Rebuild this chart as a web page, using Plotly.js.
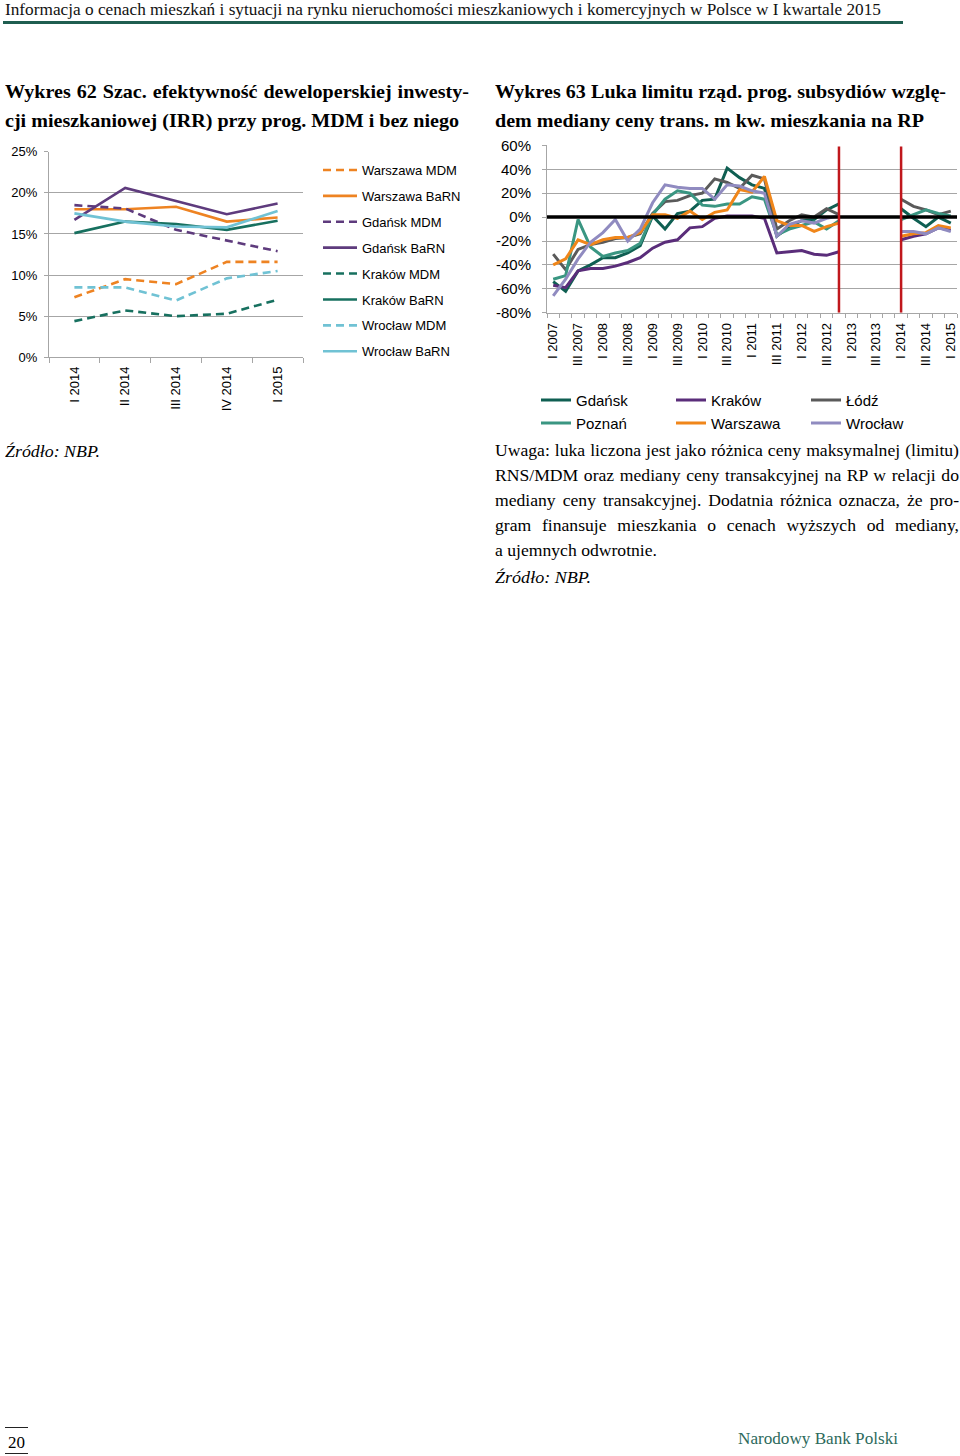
<!DOCTYPE html>
<html>
<head>
<meta charset="utf-8">
<script src="https://cdn.plot.ly/plotly-3.0.1.min.js"></script>
<style>
  html, body { margin: 0; padding: 0; background: #fff; }
  #wrap { position: relative; width: 960px; height: 1456px; overflow: hidden; background: #fff; }
  #chart { position: absolute; left: 0; top: 0; width: 960px; height: 1456px; }
  .t { position: absolute; white-space: nowrap; font-family: "Liberation Serif", "Times New Roman", serif;
       color: #000; transform-origin: 0 50%; z-index: 5; }
  .rule { position: absolute; z-index: 5; }
</style>
</head>
<body>
<div id="wrap">
  <div id="chart"></div>

  <div class="t" data-w="876" style="left:5px; top:0px; font-size:17px; line-height:20px; color:#111;">Informacja o cenach mieszkań i sytuacji na rynku nieruchomości mieszkaniowych i komercyjnych w Polsce w I kwartale 2015</div>
  <div class="rule" style="left:3px; top:21px; width:900px; height:3px; background:#1F5E50;"></div>

  <div class="t" data-w="464" data-grp="tl" style="left:5px; top:80px; font-size:19px; line-height:24px; font-weight:bold;">Wykres 62 Szac. efektywność deweloperskiej inwesty-</div>
  <div class="t" data-w="454" data-ref="tl" style="left:5px; top:109px; font-size:19px; line-height:24px; font-weight:bold;">cji mieszkaniowej (IRR) przy prog. MDM i bez niego</div>
  <div class="t" data-w="451" data-grp="tr" style="left:495px; top:80px; font-size:19px; line-height:24px; font-weight:bold;">Wykres 63 Luka limitu rząd. prog. subsydiów wzglę-</div>
  <div class="t" data-w="429" data-ref="tr" style="left:495px; top:109px; font-size:19px; line-height:24px; font-weight:bold;">dem mediany ceny trans. m kw. mieszkania na RP</div>

  <div class="t" data-w="95" style="left:5px; top:441px; font-size:17px; line-height:22px; font-style:italic;">Źródło: NBP.</div>

  <div class="t" data-w="464" data-grp="p" style="left:495px; top:440px; font-size:17px; line-height:22px;">Uwaga: luka liczona jest jako różnica ceny maksymalnej (limitu)</div>
  <div class="t" data-w="464" data-grp="p" style="left:495px; top:465px; font-size:17px; line-height:22px;">RNS/MDM oraz mediany ceny transakcyjnej na RP w relacji do</div>
  <div class="t" data-w="464" data-grp="p" style="left:495px; top:490px; font-size:17px; line-height:22px;">mediany ceny transakcyjnej. Dodatnia różnica oznacza, że pro-</div>
  <div class="t" data-w="464" data-grp="p" style="left:495px; top:515px; font-size:17px; line-height:22px;">gram finansuje mieszkania o cenach wyższych od mediany,</div>
  <div class="t" data-w="162" data-ref="p" style="left:495px; top:540px; font-size:17px; line-height:22px;">a ujemnych odwrotnie.</div>
  <div class="t" data-w="96" style="left:495px; top:567px; font-size:17px; line-height:22px; font-style:italic;">Źródło: NBP.</div>

  <div class="rule" style="left:5px; top:1427px; width:23px; height:1px; background:#222;"></div>
  <div class="t" data-w="17" style="left:8px; top:1433px; font-size:16px; line-height:20px;">20</div>
  <div class="rule" style="left:5px; top:1453px; width:23px; height:1px; background:#222;"></div>
  <div class="t" data-w="160" style="left:738px; top:1429px; font-size:17px; line-height:20px; color:#2D6A5C;">Narodowy Bank Polski</div>
</div>

<script>
// ---------------- Wykres 62 data (IRR, %) ----------------
const categoriesL = ["I 2014", "II 2014", "III 2014", "IV 2014", "I 2015"];
const warszawaMDM  = [7.3, 9.5, 8.9, 11.6, 11.6];
const warszawaBaRN = [18.0, 18.0, 18.3, 16.5, 17.0];
const gdanskMDM    = [18.5, 18.1, 15.5, 14.2, 12.9];
const gdanskBaRN   = [16.7, 20.6, 19.0, 17.4, 18.7];
const krakowMDM    = [4.4, 5.7, 5.0, 5.3, 7.0];
const krakowBaRN   = [15.1, 16.5, 16.2, 15.5, 16.6];
const wroclawMDM   = [8.5, 8.5, 6.9, 9.6, 10.5];
const wroclawBaRN  = [17.5, 16.5, 15.9, 15.8, 17.8];
const yTicksL      = [0, 5, 10, 15, 20, 25];
const yTickTextL   = ["0%", "5%", "10%", "15%", "20%", "25%"];

// ---------------- Wykres 63 data (gap, %) ----------------
const quartersR = ["I 2007","II 2007","III 2007","IV 2007","I 2008","II 2008","III 2008","IV 2008",
  "I 2009","II 2009","III 2009","IV 2009","I 2010","II 2010","III 2010","IV 2010",
  "I 2011","II 2011","III 2011","IV 2011","I 2012","II 2012","III 2012","IV 2012",
  "I 2013","II 2013","III 2013","IV 2013","I 2014","II 2014","III 2014","IV 2014","I 2015"];
const tickLabelsR = ["I 2007","III 2007","I 2008","III 2008","I 2009","III 2009","I 2010","III 2010",
  "I 2011","III 2011","I 2012","III 2012","I 2013","III 2013","I 2014","III 2014","I 2015"];
const yTicksR    = [-80, -60, -40, -20, 0, 20, 40, 60];
const yTickTextR = ["-80%", "-60%", "-40%", "-20%", "0%", "20%", "40%", "60%"];
const programBreaks = ["IV 2012", "I 2014"];

const gdanskR   = [-54,-62,-45,-40,-34,-34,-30,-24, 1,-10, 3, 5, 14, 15, 41, 33, 27, 24,-16, -8, -3, -2, 6, 11, null,null,null,null,  7, -1, -8,  0, -5];
const krakowR   = [-57,-59,-45,-43,-43,-41,-38,-34,-26,-21,-19,-9, -8, -1,  1,  1,  1, -1,-30,-29,-28,-31,-32,-29, null,null,null,null,-19,-16,-14, -9,-11];
const lodzR     = [-31,-44,-27,-23,-21,-18,-17,-14,  3, 13, 14, 18, 20, 32, 29, 24, 35, 32,-10, -3,  2,  0,  7,  2, null,null,null,null, 15,  9,  6,  2,  5];
const poznanR   = [-52,-49, -2,-25,-33,-30,-28,-22,  2, 15, 22, 20, 10,  9, 11, 11, 17, 15,-15,-10, -7, -4,-10, -3, null,null,null,null, -2,  2,  6,  3,  1];
const warszawaR = [-40,-35,-19,-23,-19,-17,-17,-13,  2,  2, -1,  5, -2,  4,  6, 23, 21, 34, -3, -7, -7,-12, -8, -5, null,null,null,null,-16,-14,-13, -7, -9];
const wroclawR  = [-66,-52,-35,-21,-13, -2,-20,-10, 12, 27, 25, 24, 24, 15, 27, 26, 22, 20,-16, -6, -3, -5, -1,  1, null,null,null,null,-12,-12,-14, -9,-12];

// ---------------- figure ----------------
const W = 960, H = 1456;
const xL = categoriesL.map((c, i) => i);
const xR = quartersR.map((q, i) => i);
const tickValsR = tickLabelsR.map(l => quartersR.indexOf(l));

const dashP = "8px,5px";
function lineL(name, y, color, dash, grp) {
  return { type: 'scatter', mode: 'lines', name: name, x: xL, y: y, xaxis: 'x', yaxis: 'y',
           legend: 'legend', legendgroup: grp,
           line: { color: color, width: 2.6, dash: dash ? dashP : 'solid' }, hoverinfo: 'skip' };
}
const cOr = '#EE8322', cPu = '#5E3B7D', cTe = '#17705F', cLb = '#70C2D4';

const tracesL = [
  lineL('Warszawa MDM',  warszawaMDM,  cOr, true,  'g1'),
  lineL('Warszawa BaRN', warszawaBaRN, cOr, false, 'g2'),
  lineL('Gdańsk MDM',    gdanskMDM,    cPu, true,  'g3'),
  lineL('Gdańsk BaRN',   gdanskBaRN,   cPu, false, 'g4'),
  lineL('Kraków MDM',    krakowMDM,    cTe, true,  'g5'),
  lineL('Kraków BaRN',   krakowBaRN,   cTe, false, 'g6'),
  lineL('Wrocław MDM',   wroclawMDM,   cLb, true,  'g7'),
  lineL('Wrocław BaRN',  wroclawBaRN,  cLb, false, 'g8')
];

function lineR(name, y, color, leg) {
  return { type: 'scatter', mode: 'lines', name: name, x: xR, y: y, xaxis: 'x2', yaxis: 'y2',
           legend: leg, connectgaps: false,
           line: { color: color, width: 3 }, hoverinfo: 'skip' };
}
const tracesR = [
  lineR('Gdańsk',   gdanskR,   '#0F5F52', 'legend2'),
  lineR('Kraków',   krakowR,   '#5A2D7A', 'legend2'),
  lineR('Łódź',     lodzR,     '#5A5A5A', 'legend2'),
  lineR('Poznań',   poznanR,   '#3A9682', 'legend3'),
  lineR('Warszawa', warszawaR, '#F0861A', 'legend3'),
  lineR('Wrocław',  wroclawR,  '#908BC0', 'legend3')
];

const gridC = '#A6A6A6';
const shapes = [
  { type: 'line', xref: 'x2', yref: 'y2', x0: -0.5, x1: quartersR.length - 0.5, y0: 0, y1: 0,
    line: { color: '#000', width: 3.5 }, layer: 'above' }
].concat(programBreaks.map(q => ({
    type: 'line', xref: 'x2', yref: 'y2', x0: quartersR.indexOf(q), x1: quartersR.indexOf(q),
    y0: -80, y1: 59, line: { color: '#C0171C', width: 2.5 }, layer: 'above' })));

const layout = {
  width: W, height: H,
  margin: { l: 0, r: 0, t: 0, b: 0, pad: 0 },
  paper_bgcolor: '#ffffff', plot_bgcolor: 'rgba(0,0,0,0)',
  font: { family: '"Liberation Sans", Arial, sans-serif', color: '#000', size: 13 },
  showlegend: true,
  xaxis: {
    domain: [49 / W, 303 / W], range: [-0.5, categoriesL.length - 0.5], anchor: 'y',
    tickmode: 'array', tickvals: xL, ticktext: categoriesL, tickangle: -90, ticks: '',
    ticklabelstandoff: 3,
    showgrid: false, zeroline: false, showline: true, linecolor: gridC, linewidth: 1,
    minor: { tickmode: 'linear', tick0: -0.5, dtick: 1, ticks: 'outside', ticklen: 5, tickcolor: gridC, showgrid: false },
    tickfont: { size: 13 }, fixedrange: true
  },
  yaxis: {
    domain: [1 - 357.3 / H, 1 - 151.7 / H], range: [0, 25], anchor: 'x',
    tickmode: 'array', tickvals: yTicksL, ticktext: yTickTextL,
    showgrid: true, gridcolor: gridC, gridwidth: 1, zeroline: false,
    showline: true, linecolor: gridC, linewidth: 1, ticks: 'outside', ticklen: 4, tickcolor: gridC,
    ticklabelstandoff: 4, tickfont: { size: 13 }, fixedrange: true
  },
  xaxis2: {
    domain: [547 / W, 957 / W], range: [-0.5, quartersR.length - 0.5], anchor: 'y2',
    tickmode: 'array', tickvals: tickValsR, ticktext: tickLabelsR, tickangle: -90, ticks: '',
    ticklabelstandoff: 4,
    showgrid: false, zeroline: false, showline: true, linecolor: gridC, linewidth: 1,
    minor: { tickmode: 'linear', tick0: -0.5, dtick: 1, ticks: 'outside', ticklen: 4, tickcolor: gridC, showgrid: false },
    tickfont: { size: 13 }, fixedrange: true
  },
  yaxis2: {
    domain: [1 - 312.7 / H, 1 - 145.4 / H], range: [-80, 60], anchor: 'x2',
    tickmode: 'array', tickvals: yTicksR, ticktext: yTickTextR,
    showgrid: true, gridcolor: gridC, gridwidth: 1, zeroline: false,
    showline: true, linecolor: gridC, linewidth: 1, ticks: 'outside', ticklen: 4, tickcolor: gridC,
    ticklabelstandoff: 8, tickfont: { size: 15 }, fixedrange: true
  },
  legend: {
    x: 318 / W, xanchor: 'left', y: 1 - 155 / H, yanchor: 'top', orientation: 'v',
    bgcolor: 'rgba(0,0,0,0)', borderwidth: 0, font: { size: 13 }, tracegroupgap: 6, itemwidth: 34,
    traceorder: 'grouped'
  },
  legend2: {
    x: 536 / W, xanchor: 'left', y: 1 - 383.8 / H, yanchor: 'top', orientation: 'h',
    bgcolor: 'rgba(0,0,0,0)', borderwidth: 0, font: { size: 15 }, entrywidth: 90, entrywidthmode: 'pixels'
  },
  legend3: {
    x: 536 / W, xanchor: 'left', y: 1 - 406.8 / H, yanchor: 'top', orientation: 'h',
    bgcolor: 'rgba(0,0,0,0)', borderwidth: 0, font: { size: 15 }, entrywidth: 90, entrywidthmode: 'pixels'
  },
  shapes: shapes
};

// Text fitting: reference lines (last lines of a paragraph) give the glyph scale;
// justified lines use that scale and distribute the rest as word spacing.
function fitText() {
  const els = Array.from(document.querySelectorAll('[data-w]'));
  els.forEach(el => { el.style.transform = 'none'; el.style.wordSpacing = '0px'; });
  const scales = {};
  els.forEach(el => {
    const nat = el.getBoundingClientRect().width;
    el._nat = nat;
    if (el.dataset.ref && nat) scales[el.dataset.ref] = (+el.dataset.w) / nat;
  });
  els.forEach(el => {
    const target = +el.dataset.w, nat = el._nat;
    if (!nat) return;
    const grp = el.dataset.grp;
    const spaces = (el.textContent.match(/ /g) || []).length;
    if (grp && scales[grp] && spaces) {
      let s = scales[grp];
      let ws = (target / s - nat) / spaces;
      if (ws < 0) { s = target / nat; ws = 0; }
      el.style.wordSpacing = ws + 'px';
      el.style.transform = 'scaleX(' + s + ')';
    } else {
      el.style.transform = 'scaleX(' + (target / nat) + ')';
    }
  });
}

Plotly.newPlot('chart', tracesL.concat(tracesR), layout, { staticPlot: true, displayModeBar: false })
  .then(fitText);
fitText();
if (document.fonts && document.fonts.ready) document.fonts.ready.then(fitText);
</script>
</body>
</html>
